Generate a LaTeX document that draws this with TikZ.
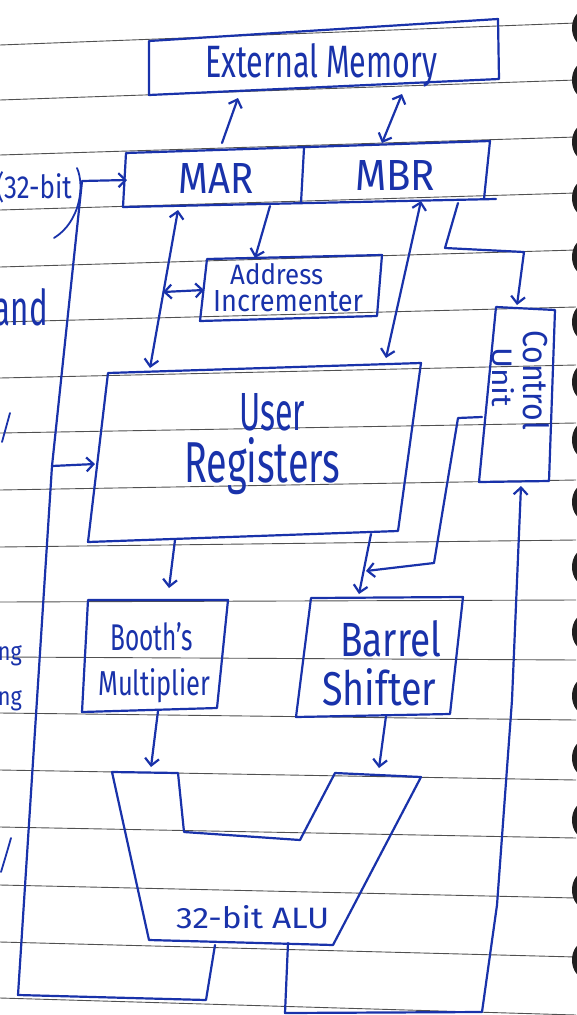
\documentclass[tikz,border=0pt]{standalone}
\usepackage{fontspec}
\setmainfont{Fira Sans}
\usetikzlibrary{arrows.meta}
\definecolor{ink}{RGB}{25,50,170}
\definecolor{rulegray}{RGB}{80,80,80}
% scale a word to a given width and height (in pt)
\newcommand{\inktext}[3]{\resizebox{#1pt}{#2pt}{#3}}

\begin{document}
\begin{tikzpicture}[x=1pt,y=-1pt,
  pen/.style={draw=ink,line width=2.2pt,line cap=round,line join=round},
  tip/.style={-{Straight Barb[length=7pt,width=14pt]}},
  dtip/.style={{Straight Barb[length=7pt,width=14pt]}-{Straight Barb[length=7pt,width=14pt]}},
  lbl/.style={text=ink,inner sep=0pt,anchor=base west},
  margin/.style={text=ink,inner sep=0pt,anchor=base east},
  ruling/.style={draw=rulegray,line width=0.9pt}]

\useasboundingbox (0,0) rectangle (576,1015);
\fill[white] (0,0) rectangle (576,1015);

% ruled notebook lines
\foreach \l/\r in {45/23,100/80,155/137,210/193,267/250,322/307,378/365,433/423,
                   490/480,547/540,602/600,657/660,713/720,770/780,827/838,
                   885/898,942/957,998/1015}
  \draw[ruling] (0,\l) -- (576,\r);

% spiral binding holes
\foreach \y in {28,80,142,198,257,322,382,440,502,567,632,696,758,820,890,960}
  \fill[black!88] (585,\y) ellipse [x radius=13, y radius=18];

% words in the margin
\node[margin] (m1) at (72,198) {\inktext{76}{27}{(32-bit}};
\node[margin] (m2) at (48,325) {\inktext{54}{37}{and}};
\node[margin] (m3) at (22,660) {\inktext{30}{20}{ing}};
\node[margin] (m4) at (22,705) {\inktext{24}{15}{ng}};
\draw[pen,line width=1.8pt] (10,413) -- (2,442);
\draw[pen,line width=1.8pt] (11,838) .. controls (7,852) .. (1,872);
\draw[pen,line width=1.8pt] (77,168) .. controls (85,186) and (80,222) .. (54,238);

% ---- External Memory
\coordinate (em-nw) at (149,41);
\coordinate (em-ne) at (498,19);
\coordinate (em-se) at (499,79);
\coordinate (em-sw) at (149,95);
\draw[pen] (em-nw) -- (em-ne) -- (em-se) -- (em-sw) -- cycle;
\node[lbl] (em) at (205,77) {\inktext{232}{34}{External Memory}};

% ---- MAR / MBR
\coordinate (rg-nw) at (126,153);
\coordinate (rg-ne) at (490,141);
\coordinate (rg-se) at (484,199);
\coordinate (rg-sw) at (123,207);
\coordinate (rg-mn) at (304,148);
\coordinate (rg-ms) at (301,203);
\draw[pen] (rg-sw) -- (rg-nw) -- (rg-ne) -- (rg-se);
\draw[pen] (rg-sw) -- (496,199);
\draw[pen] (rg-mn) -- (rg-ms);
\node[lbl] (mar) at (178,193) {\inktext{75}{30}{MAR}};
\node[lbl] (mbr) at (355,190) {\inktext{80}{30}{MBR}};

% ---- Address Incrementer
\coordinate (ai-nw) at (207,259);
\coordinate (ai-ne) at (382,255);
\coordinate (ai-se) at (377,316);
\coordinate (ai-sw) at (200,321);
\draw[pen] (ai-nw) -- (ai-ne) -- (ai-se) -- (ai-sw) -- cycle;
\node[lbl] (ai1) at (230,284) {\inktext{93}{21}{Address}};
\node[lbl] (ai2) at (213,311) {\inktext{150}{21}{Incrementer}};

% ---- Control Unit
\coordinate (cu-nw) at (496,307);
\coordinate (cu-ne) at (555,310);
\coordinate (cu-se) at (549,481);
\coordinate (cu-sw) at (479,482);
\draw[pen] (cu-nw) -- (cu-ne) -- (cu-se) -- (cu-sw) -- cycle;
\node[lbl,rotate=-90] (cu1) at (523,330) {\inktext{100}{26}{Control}};
\node[lbl,rotate=-90] (cu2) at (492,347) {\inktext{60}{22}{Unit}};

% ---- User Registers
\coordinate (ur-nw) at (108,373);
\coordinate (ur-ne) at (421,363);
\coordinate (ur-se) at (398,531);
\coordinate (ur-sw) at (88,542);
\draw[pen] (ur-nw) -- (ur-ne) -- (ur-se) -- (ur-sw) -- cycle;
\node[lbl] (ur1) at (239,430) {\inktext{66}{37}{User}};
\node[lbl] (ur2) at (184,482) {\inktext{156}{45}{Registers}};

% ---- Booth's Multiplier
\coordinate (bm-nw) at (88,600);
\coordinate (bm-ne) at (228,600);
\coordinate (bm-se) at (217,708);
\coordinate (bm-sw) at (82,712);
\draw[pen] (bm-nw) -- (bm-ne) -- (bm-se) -- (bm-sw) -- cycle;
\node[lbl] (bm1) at (110,650) {\inktext{83}{28}{Booth's}};
\node[lbl] (bm2) at (98,695) {\inktext{112}{27}{Multiplier}};

% ---- Barrel Shifter
\coordinate (bs-nw) at (311,598);
\coordinate (bs-ne) at (463,597);
\coordinate (bs-se) at (450,714);
\coordinate (bs-sw) at (296,717);
\draw[pen] (bs-nw) -- (bs-ne) -- (bs-se) -- (bs-sw) -- cycle;
\node[lbl] (bs1) at (340,656) {\inktext{101}{36}{Barrel}};
\node[lbl] (bs2) at (322,705) {\inktext{114}{37}{Shifter}};

% ---- 32-bit ALU (V-shaped outline)
\coordinate (alu-a) at (112,772);
\coordinate (alu-b) at (178,773);
\coordinate (alu-c) at (184,832);
\coordinate (alu-d) at (300,840);
\coordinate (alu-e) at (335,773);
\coordinate (alu-f) at (421,777);
\coordinate (alu-g) at (333,945);
\coordinate (alu-h) at (149,940);
\draw[pen] (alu-a) -- (alu-b) -- (alu-c) -- (alu-d) -- (alu-e) -- (alu-f)
           -- (alu-g) -- (alu-h) -- cycle;
\node[lbl] (alu) at (176,928) {\inktext{153}{23}{32-bit ALU}};

% ---- connector end points
\coordinate (mar-top)  at (222,143);
\coordinate (em-in)    at (238,98);
\coordinate (mbr-top)  at (382,143);
\coordinate (em-io)    at (402,94);
\coordinate (mar-left) at (127,180);
\coordinate (mar-bot)  at (270,206);
\coordinate (ai-top)   at (255,258);
\coordinate (mar-io)   at (178,210);
\coordinate (ur-io1)   at (150,368);
\coordinate (bus-ai)   at (163,292);
\coordinate (ai-left)  at (204,290);
\coordinate (mbr-io)   at (421,201);
\coordinate (ur-io2)   at (386,358);
\coordinate (mbr-ctl)  at (458,203);
\coordinate (cu-top)   at (517,305);
\coordinate (cu-out)   at (482,417);
\coordinate (bs-ctl)   at (366,571);
\coordinate (ur-out1)  at (175,540);
\coordinate (bm-top)   at (169,588);
\coordinate (ur-out2)  at (371,534);
\coordinate (bs-top)   at (359,594);
\coordinate (bm-out)   at (158,711);
\coordinate (alu-in1)  at (151,767);
\coordinate (bs-out)   at (386,716);
\coordinate (alu-in2)  at (379,768);
\coordinate (alu-out1) at (215,945);
\coordinate (alu-out2) at (288,943);
\coordinate (cu-bot)   at (521,486);
\coordinate (fb-split) at (52,466);
\coordinate (ur-left)  at (95,464);

% ---- connectors
\draw[pen,tip] (mar-top) -- (em-in);
\draw[pen,dtip] (mbr-top) -- (em-io);
\draw[pen,tip] (mar-bot) -- (ai-top);
\draw[pen,dtip] (mar-io) -- (ur-io1);
\draw[pen,dtip] (bus-ai) -- (ai-left);
\draw[pen,dtip] (mbr-io) -- (ur-io2);
\draw[pen,tip] (mbr-ctl) -- (445,248) -- (524,252) -- (cu-top);
\draw[pen,tip] (cu-out) -- (458,418) -- (434,563) -- (bs-ctl);
\draw[pen,tip] (ur-out1) -- (bm-top);
\draw[pen,tip] (ur-out2) -- (bs-top);
\draw[pen,tip] (bm-out) -- (alu-in1);
\draw[pen,tip] (bs-out) -- (alu-in2);
% ALU result fed back to MAR and the user registers
\draw[pen,tip] (alu-out1) -- (206,1000) -- (18,995) -- (fb-split) -- (82,181) -- (mar-left);
\draw[pen,tip] (fb-split) -- (ur-left);
% ALU flags to the control unit
\draw[pen,tip] (alu-out2) -- (285,1013) -- (482,1012) -- (497,905)
               -- (512,700) -- (cu-bot);

\end{tikzpicture}
\end{document}
